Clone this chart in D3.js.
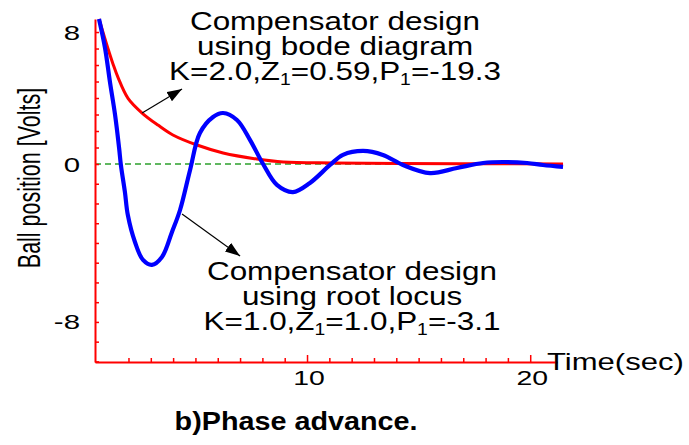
<!DOCTYPE html>
<html>
<head>
<meta charset="utf-8">
<script src="https://cdn.jsdelivr.net/npm/d3@7"></script>
<style>
  body { margin: 0; background: #fff; }
  svg { display: block; font-family: "Liberation Sans", Arial, sans-serif; }
</style>
</head>
<body>
<div id="chart"></div>
<script>
// Values (time in seconds, ball position in volts)
const bodeTime  = [0.68, 1.08, 1.31, 1.53, 1.98, 2.61, 3.32, 3.99, 5.07, 6.24, 7.76, 8.93, 11.16, 14.16, 17.75, 21.47];
const bodeVolts = [8.79, 7.00, 6.05, 5.25, 3.98, 3.09, 2.36, 1.76, 1.15, 0.67, 0.30, 0.12, 0.06, 0.03, 0.02, 0.0];

const locusTime  = [0.68, 0.95, 1.17, 1.40, 1.58, 1.66, 1.84, 1.97, 2.29, 2.65, 3.05, 3.50, 3.95, 4.31, 4.76, 5.20,
                    5.79, 6.24, 6.86, 7.45, 8.03, 8.65, 9.37, 10.13, 11.03, 11.61, 12.51, 13.40, 14.30, 15.51,
                    16.72, 17.89, 18.78, 19.86, 20.57, 21.47];
const locusVolts = [8.79, 7.03, 4.97, 2.97, 0.97, -0.05, -1.42, -2.58, -3.95, -4.86, -5.11, -4.71, -3.44, -2.33, -0.30, 1.88,
                    2.85, 3.09, 2.67, 1.45, 0.0, -1.06, -1.42, -0.96, -0.05, 0.55, 0.79, 0.55, -0.05, -0.46,
                    -0.20, 0.06, 0.12, 0.06, -0.05, -0.15];

const xTickLabels = [10, 20];
const yTickLabels = [-8, 0, 8];
const xMinorTicks = [2, 3, 4, 5, 6, 7, 8, 9, 11, 12, 13, 14, 15, 16, 17, 18, 19];
const yMinorTicks = [-10, -9, -7, -6, -5, -4, -3, -2, -1, 1, 2, 3, 4, 5, 6, 7];

const bodeNote  = ["Compensator design", "using bode diagram", "K=2.0,Z_1=0.59,P_1=-19.3"];
const locusNote = ["Compensator design", "using root locus", "K=1.0,Z_1=1.0,P_1=-3.1"];

// arrow [from, to] in data units
const bodeArrow  = [[2.61, 3.09], [4.40, 4.55]];
const locusArrow = [[4.40, -2.53], [7.00, -4.66]];

const width = 689;
const height = 445;

const svg = d3.select("#chart").append("svg")
    .attr("width", width)
    .attr("height", height);

// Scales (the printed axis is not uniform, so y is piecewise)
const x = d3.scaleLinear().domain([0.5, 21.2]).range([95, 557]);
const y = d3.scaleLinear().domain([-10.03, 0, 8.79]).range([362, 164, 19]);

// Arrow head
svg.append("defs").append("marker")
    .attr("id", "head")
    .attr("viewBox", "0 -5 14 10")
    .attr("refX", 14)
    .attr("refY", 0)
    .attr("markerUnits", "userSpaceOnUse")
    .attr("markerWidth", 15)
    .attr("markerHeight", 11)
    .attr("orient", "auto")
    .append("path")
    .attr("d", "M0,-5L14,0L0,5Z")
    .attr("fill", "#000");

// Zero line
svg.append("line")
    .attr("x1", x(0.5)).attr("x2", x(21.4))
    .attr("y1", y(0)).attr("y2", y(0))
    .attr("stroke", "#2ca02c")
    .attr("stroke-width", 1.5)
    .attr("stroke-dasharray", "6,4");

// Y axis (ticks point into the plot)
svg.append("g")
    .attr("transform", `translate(${x.range()[0]},0)`)
    .call(d3.axisRight(y).tickValues(yMinorTicks.concat(yTickLabels)).tickSize(4).tickSizeOuter(0).tickFormat(""));

// X axis
svg.append("g")
    .attr("transform", `translate(0,${y.range()[0]})`)
    .call(d3.axisTop(x).tickValues(xMinorTicks).tickSize(4).tickSizeOuter(0).tickFormat(""));

svg.append("g")
    .attr("transform", `translate(0,${y.range()[0]})`)
    .call(d3.axisTop(x).tickValues(xTickLabels).tickSize(7).tickSizeOuter(0).tickFormat(""))
    .select(".domain").remove();

svg.selectAll(".domain").attr("stroke", "#ff0000").attr("stroke-width", 2);
svg.selectAll(".tick line").attr("stroke", "#ff0000").attr("stroke-width", 1.5);

// Tick labels (the figure's digits are stretched sideways)
svg.append("g").selectAll("text")
    .data(yTickLabels)
    .join("text")
    .attr("transform", d => `translate(80,${y(d)}) scale(1.4,1)`)
    .attr("dy", "0.36em")
    .attr("text-anchor", "end")
    .attr("font-size", 21)
    .text(d => d);

svg.append("g").selectAll("text")
    .data(xTickLabels)
    .join("text")
    .attr("transform", d => `translate(${x(d) + 2},385) scale(1.42,1)`)
    .attr("text-anchor", "middle")
    .attr("font-size", 20)
    .text(d => d);

// Axis titles
svg.append("text")
    .attr("transform", "translate(40,178) scale(1.45,1) rotate(-90)")
    .attr("text-anchor", "middle")
    .attr("font-size", 21.5)
    .text("Ball position [Volts]");

svg.append("text")
    .attr("transform", "translate(547,370) scale(1.35,1)")
    .attr("font-size", 23)
    .text("Time(sec)");

// Curves
const line = d3.line()
    .x(d => x(d[0]))
    .y(d => y(d[1]))
    .curve(d3.curveCatmullRom.alpha(0.5));

svg.append("path")
    .datum(d3.zip(bodeTime, bodeVolts))
    .attr("fill", "none")
    .attr("stroke", "#ff0000")
    .attr("stroke-width", 3)
    .attr("d", line);

svg.append("path")
    .datum(d3.zip(locusTime, locusVolts))
    .attr("fill", "none")
    .attr("stroke", "#0000ff")
    .attr("stroke-width", 4.2)
    .attr("stroke-linejoin", "round")
    .attr("d", line);

// Arrows
[bodeArrow, locusArrow].forEach(a => {
    svg.append("line")
        .attr("x1", x(a[0][0])).attr("y1", y(a[0][1]))
        .attr("x2", x(a[1][0])).attr("y2", y(a[1][1]))
        .attr("stroke", "#000")
        .attr("stroke-width", 1.2)
        .attr("marker-end", "url(#head)");
});

// Annotation blocks
function note(lines, cx, baselines) {
    const g = svg.append("g")
        .attr("transform", `translate(${cx},0) scale(1.21,1)`);
    lines.forEach((s, i) => {
        const t = g.append("text")
            .attr("x", 0)
            .attr("y", baselines[i])
            .attr("text-anchor", "middle")
            .attr("font-size", 26);
        s.split("_1").forEach((part, j) => {
            if (j > 0) {
                t.append("tspan").attr("font-size", 16).attr("dy", 5).text("1");
                t.append("tspan").attr("dy", -5).text(part);
            } else {
                t.append("tspan").text(part);
            }
        });
    });
}

note(bodeNote, 335, [30, 55, 80]);
note(locusNote, 352, [280, 305, 330]);

// Caption
svg.append("text")
    .attr("transform", "translate(296,430) scale(1.15,1)")
    .attr("text-anchor", "middle")
    .attr("font-size", 25)
    .attr("font-weight", "bold")
    .text("b)Phase advance.");
</script>
</body>
</html>
